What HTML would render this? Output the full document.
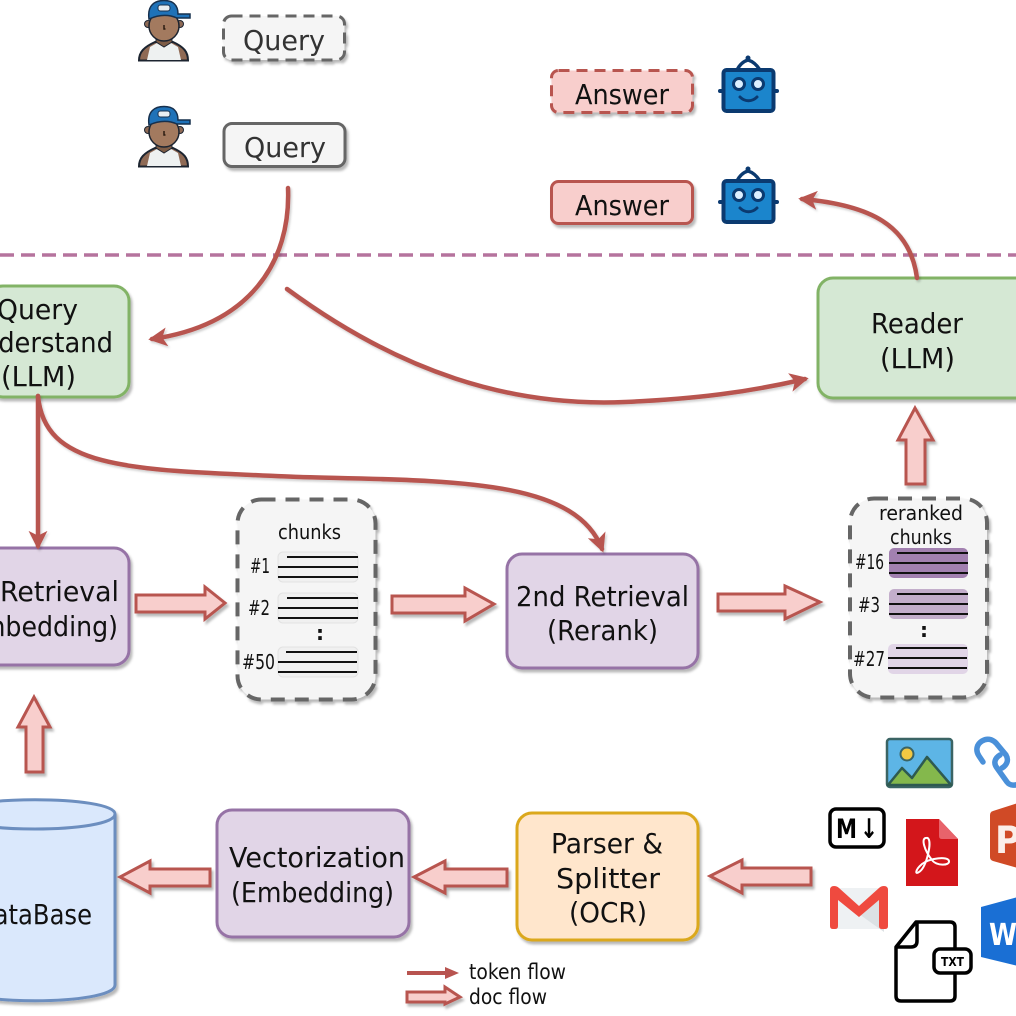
<!DOCTYPE html>
<html><head><meta charset="utf-8"><title>RAG pipeline diagram</title>
<style>
html,body{margin:0;padding:0;background:#fff;width:1016px;height:1016px;overflow:hidden}
svg{display:block}
text{font-family:"DejaVu Sans","Liberation Sans",sans-serif;font-size:28px;fill:#111}
.s{font-size:20px}
.t{font-size:21px}
</style></head><body>
<svg width="1016" height="1016" viewBox="0 0 1016 1016" xmlns="http://www.w3.org/2000/svg">
<defs>
<filter id="sh" x="-20%" y="-20%" width="140%" height="140%"><feDropShadow dx="2" dy="3" stdDeviation="1.2" flood-color="#000" flood-opacity=".28"/></filter>
<filter id="sl" x="-5%" y="-5%" width="110%" height="110%"><feDropShadow dx="1.500" dy="2" stdDeviation="1" flood-color="#000" flood-opacity=".18"/></filter>
<marker id="ah" viewBox="0 0 10 10" refX="8" refY="5" markerWidth="4.2" markerHeight="4.2" orient="auto"><path d="M0 0L10 5L0 10L2.5 5Z" fill="#b85450"/></marker>
<g id="av">
<path d="M139 60.500C139 52 144 47 155 42L173 42C184 47 188 52 188 60.500Z" fill="#8f6a55" stroke="#1c2430" stroke-width="2"/>
<path d="M147 60L150 47L157 43L164 47L171 43L178 47L181 60Z" fill="#eef1f1"/>
<path d="M156 36H172V42L164 47L156 42Z" fill="#7d5c46" stroke="#1c2430" stroke-width="1"/>
<circle cx="148" cy="24" r="3.500" fill="#8f6a55" stroke="#1c2430"/><circle cx="180" cy="24" r="3.500" fill="#8f6a55" stroke="#1c2430"/>
<ellipse cx="164" cy="26" rx="15" ry="15" fill="#a37a5f" stroke="#1c2430" stroke-width="1.500"/>
<path d="M149 19C147 5 155 0.500 164 0.500C173 0.500 178 5 178 14L190 14L190 18L177 18C168 14 158 15 149 19Z" fill="#1f72b8" stroke="#17304d" stroke-width="1.500"/>
<rect x="158" y="5" width="12" height="6" rx="2.500" fill="#e8eef2" stroke="#17304d"/>
<path d="M164 25v4h1.500" stroke="#2c1c12" stroke-width="1.500" fill="none"/>
</g>
<g id="rb">
<path d="M737 70Q741 62 748 60Q755 62 760 70" fill="#fff" stroke="#0b3a70" stroke-width="3.500"/>
<circle cx="748" cy="58" r="2.500" fill="#0b3a70"/>
<rect x="723.500" y="70" width="50" height="41" rx="3" fill="#1b85cc" stroke="#0b3a70" stroke-width="4"/>
<path d="M720 91h3M774 91h3" stroke="#0b3a70" stroke-width="4" stroke-linecap="round"/>
<circle cx="739" cy="84" r="5.500" fill="#dcefff" stroke="#0b3a70" stroke-width="3"/><circle cx="758" cy="84" r="5.500" fill="#dcefff" stroke="#0b3a70" stroke-width="3"/>
<path d="M740 97C745 102 752 102 757 97" fill="none" stroke="#0b3a70" stroke-width="3" stroke-linecap="round"/>
</g>
</defs>
<rect width="1016" height="1016" fill="#fff"/>

<!-- separator -->
<line x1="0" y1="255" x2="1016" y2="255" stroke="#b5739d" stroke-width="3.500" stroke-dasharray="14 7"/>

<!-- avatars & bots -->
<use href="#av"/><use href="#av" y="106"/>
<use href="#rb"/><use href="#rb" y="111"/>

<!-- query/answer boxes -->
<g filter="url(#sh)">
<rect x="223.500" y="16" width="121" height="44" rx="8" fill="#f5f5f5" stroke="#666" stroke-width="3" stroke-dasharray="11 7"/>
<rect x="224" y="123.500" width="121" height="43" rx="8" fill="#f5f5f5" stroke="#666" stroke-width="3"/>
<rect x="551.500" y="70.500" width="141" height="42" rx="7" fill="#f8cecc" stroke="#b85450" stroke-width="3" stroke-dasharray="11 7"/>
<rect x="551.500" y="181.500" width="141" height="42" rx="7" fill="#f8cecc" stroke="#b85450" stroke-width="3"/>
<!-- process boxes -->
<rect x="-12" y="286" width="141" height="111" rx="15" fill="#d5e8d4" stroke="#82b366" stroke-width="3"/>
<rect x="818" y="278" width="230" height="120" rx="15" fill="#d5e8d4" stroke="#82b366" stroke-width="3"/>
<rect x="-40" y="548" width="169" height="117" rx="15" fill="#e1d5e7" stroke="#9673a6" stroke-width="3"/>
<rect x="507" y="554" width="191" height="114" rx="15" fill="#e1d5e7" stroke="#9673a6" stroke-width="3"/>
<rect x="217" y="810" width="192" height="127" rx="15" fill="#e1d5e7" stroke="#9673a6" stroke-width="3"/>
<rect x="517" y="813" width="181" height="127" rx="15" fill="#ffe6cc" stroke="#dba81c" stroke-width="3"/>
<!-- database -->
<path d="M-45 814C-45 795 115 795 115 814L115 985C115 1006 -45 1006 -45 985Z" fill="#dae8fc" stroke="#6c8ebf" stroke-width="3"/>
<path d="M-45 814C-45 834 115 834 115 814" fill="none" stroke="#6c8ebf" stroke-width="3"/>
<!-- chunk panels -->
<rect x="237.500" y="499.500" width="138" height="200" rx="24" fill="#f5f5f5" stroke="#666" stroke-width="4" stroke-dasharray="14 10"/>
<rect x="850" y="498.500" width="137" height="199" rx="24" fill="#f5f5f5" stroke="#666" stroke-width="4" stroke-dasharray="14 10"/>
</g>

<!-- chunk rows -->
<g>
<rect x="278" y="552" width="80" height="30" rx="5" fill="#f0f0f0" stroke="#e2e2e2"/>
<rect x="278" y="593" width="80" height="30" rx="5" fill="#f0f0f0" stroke="#e2e2e2"/>
<rect x="278" y="647" width="80" height="30" rx="5" fill="#f0f0f0" stroke="#e2e2e2"/>
<rect x="889" y="548" width="79" height="30" rx="5" fill="#a280b0"/>
<rect x="889" y="589" width="79" height="30" rx="5" fill="#c3aecb"/>
<rect x="888" y="644" width="80" height="30" rx="5" fill="#e1d5e7"/>
<path d="M287 557H358M278 567H358M278 577H358M287 598H358M278 608H358M278 618H358M286 652H357M278 662H357M278 672H357M897 553H968M889 563H968M889 573H968M897 594H968M889 604H968M889 614H968M896 648H967M888 658H967M888 668H967" stroke="#111" stroke-width="2" fill="none"/>
</g>

<!-- curved token flows -->
<g fill="none" stroke="#b85450" stroke-width="4.500" stroke-linecap="round" filter="url(#sl)">
<path d="M288 188C291 262 250 325 152 339" marker-end="url(#ah)"/>
<path d="M287 289C400 372 510 407 625 402C695 399 750 392 805 379" marker-end="url(#ah)"/>
<path d="M917 278C910 225 870 205 802 199" marker-end="url(#ah)"/>
<path d="M38 396L38 546" marker-end="url(#ah)"/>
<path d="M38 396C45 470 130 470 300 477C450 481 575 478 602 549" marker-end="url(#ah)"/>
</g>

<!-- block arrows -->
<g fill="#f8cecc" stroke="#b85450" stroke-width="3" stroke-linejoin="miter" filter="url(#sh)">
<path d="M136 595H205V587L225 603L205 619V612H136Z"/>
<path d="M392 596H465V588L494 604L465 621V613H392Z"/>
<path d="M718 594H785V586L820 602L785 619V611H718Z"/>
<path d="M210 869H150V861L120 877L150 893V886H210Z"/>
<path d="M507 869H445V861L414 877L445 893V886H507Z"/>
<path d="M811 868H742V860L710 876L742 893V885H811Z"/>
<path d="M26 772V727H18L34 697L50 727H43V772Z"/>
<path d="M906 484V440H898L915 408L933 440H925V484Z"/>
<path d="M407 992H445V987L460 997L445 1004V1002H407Z"/>
</g>
<path d="M407 973H447" stroke="#b85450" stroke-width="4" fill="none"/>
<path d="M445 967L459 973L445 979Z" fill="#b85450"/>

<!-- labels -->
<g>
<text x="243" y="50" textLength="82" lengthAdjust="spacingAndGlyphs" style="fill:#333">Query</text>
<text x="244" y="157" textLength="82" lengthAdjust="spacingAndGlyphs" style="fill:#333">Query</text>
<text x="575" y="104" textLength="94" lengthAdjust="spacingAndGlyphs">Answer</text>
<text x="575" y="215" textLength="94" lengthAdjust="spacingAndGlyphs">Answer</text>
<text x="-3" y="319" textLength="81" lengthAdjust="spacingAndGlyphs">Query</text>
<text x="-37" y="352" textLength="150" lengthAdjust="spacingAndGlyphs">Understand</text>
<text x="1" y="386" textLength="75" lengthAdjust="spacingAndGlyphs">(LLM)</text>
<text x="871" y="333" textLength="92" lengthAdjust="spacingAndGlyphs">Reader</text>
<text x="880" y="368" textLength="75" lengthAdjust="spacingAndGlyphs">(LLM)</text>
<text x="-50" y="601" textLength="169" lengthAdjust="spacingAndGlyphs">1st Retrieval</text>
<text x="-45" y="636" textLength="163" lengthAdjust="spacingAndGlyphs">(Embedding)</text>
<text x="516" y="606" textLength="173" lengthAdjust="spacingAndGlyphs">2nd Retrieval</text>
<text x="547" y="640" textLength="111" lengthAdjust="spacingAndGlyphs">(Rerank)</text>
<text x="229" y="867" textLength="176" lengthAdjust="spacingAndGlyphs">Vectorization</text>
<text x="231" y="902" textLength="163" lengthAdjust="spacingAndGlyphs">(Embedding)</text>
<text x="551" y="853" textLength="112" lengthAdjust="spacingAndGlyphs">Parser &amp;</text>
<text x="556" y="888" textLength="104" lengthAdjust="spacingAndGlyphs">Splitter</text>
<text x="569" y="922" textLength="78" lengthAdjust="spacingAndGlyphs">(OCR)</text>
<text x="-25" y="924" textLength="117" lengthAdjust="spacingAndGlyphs">DataBase</text>

<text class="s" x="278" y="539" textLength="63" lengthAdjust="spacingAndGlyphs">chunks</text>
<text class="s" x="250" y="573" textLength="20" lengthAdjust="spacingAndGlyphs">#1</text>
<text class="s" x="248" y="615" textLength="22" lengthAdjust="spacingAndGlyphs">#2</text>
<text class="s" x="316" y="640" style="font-weight:bold">:</text>
<text class="s" x="242" y="669" textLength="33" lengthAdjust="spacingAndGlyphs">#50</text>
<text class="s" x="879" y="520" textLength="84" lengthAdjust="spacingAndGlyphs">reranked</text>
<text class="s" x="890" y="544" textLength="62" lengthAdjust="spacingAndGlyphs">chunks</text>
<text class="s" x="855" y="569" textLength="29" lengthAdjust="spacingAndGlyphs">#16</text>
<text class="s" x="858" y="612" textLength="22" lengthAdjust="spacingAndGlyphs">#3</text>
<text class="s" x="920" y="637" style="font-weight:bold">:</text>
<text class="s" x="853" y="666" textLength="32" lengthAdjust="spacingAndGlyphs">#27</text>
<text class="t" x="469" y="979" textLength="97" lengthAdjust="spacingAndGlyphs">token flow</text>
<text class="t" x="469" y="1004" textLength="78" lengthAdjust="spacingAndGlyphs">doc flow</text>
</g>

<!-- file icons -->
<!-- image -->
<rect x="887" y="739" width="65" height="48" rx="3" fill="#5db5e6" stroke="#3b6464" stroke-width="2.500"/>
<circle cx="907" cy="754" r="6.500" fill="#f3c842" stroke="#3b6464" stroke-width="2"/>
<path d="M888 785L902 768L912 778L927 757L951 785Z" fill="#84b84c" stroke="#2e5a50" stroke-width="2.500" stroke-linejoin="round"/>
<!-- link -->
<g fill="none" stroke="#4a90d9" stroke-width="5.500" stroke-linecap="round">
<path d="M983 762L979 756C975 750 977 744 982 741C987 738 992 739 996 743L1006 755C1009 760 1007 765 1002 768" />
<path d="M1000 755C995 758 993 763 997 768L1007 782C1010 786 1016 786 1020 783"/>
</g>
<!-- markdown -->
<rect x="830" y="809" width="54" height="38" rx="6" fill="#fff" stroke="#000" stroke-width="3.500"/>
<text x="836" y="838" textLength="21" lengthAdjust="spacingAndGlyphs" style="font-size:27px;font-weight:bold;fill:#000">M</text>
<text x="860" y="838" textLength="18" lengthAdjust="spacingAndGlyphs" style="font-size:27px;font-weight:bold;fill:#000">↓</text>
<!-- pdf -->
<path d="M906 819H939L958 839V886H906Z" fill="#d3161b" rx="2"/>
<path d="M939 819L958 839H942Q939 839 939 836Z" fill="#e8636b"/>
<path d="M926 838C921 838 924 850 932 860C936 866 950 866 949 861C948 856 930 858 922 864C915 870 915 875 919 872C926 868 931 846 929 840C928 837 926 838 926 838Z" fill="none" stroke="#fff" stroke-width="2"/>
<!-- ppt -->
<path d="M1018 803L993 811Q990 812 990 815V857Q990 860 993 861L1018 868Z" fill="#d04a26"/>
<text x="995" y="853" textLength="26" lengthAdjust="spacingAndGlyphs" style="font-size:37px;font-weight:bold;fill:#fbeee9">P</text>
<!-- gmail -->
<rect x="834" y="888" width="50" height="41" rx="2" fill="#eef1f3"/>
<path d="M859 914L884 932V893Z" fill="#dce1e4"/>
<path d="M830 890Q830 886 834 886Q837 886 839 888L859 906L879 888Q881 886 884 886Q888 886 888 890V926Q888 929 885 929H882Q879 929 879 926V900L859 917L838 900V926Q838 929 835 929H833Q830 929 830 926Z" fill="#ef4a3f"/>
<!-- word -->
<path d="M981 907L1018 897V966L981 957Z" fill="#1a6fd4"/>
<text x="989" y="945" textLength="28" lengthAdjust="spacingAndGlyphs" style="font-size:30px;font-weight:bold;fill:#fff">W</text>
<!-- txt -->
<path d="M916 922H950Q955 922 955 927V996Q955 1001 950 1001H901Q896 1001 896 996V947Z" fill="#fff" stroke="#000" stroke-width="3.500" stroke-linejoin="round"/>
<path d="M917 922V941Q917 947 911 947H896" fill="none" stroke="#000" stroke-width="3.500"/>
<rect x="934" y="949" width="37" height="24" rx="6" fill="#fff" stroke="#000" stroke-width="3.500"/>
<text x="941" y="966" textLength="23" lengthAdjust="spacingAndGlyphs" style="font-size:12px;font-weight:bold;fill:#000">TXT</text>
</svg>
</body></html>
